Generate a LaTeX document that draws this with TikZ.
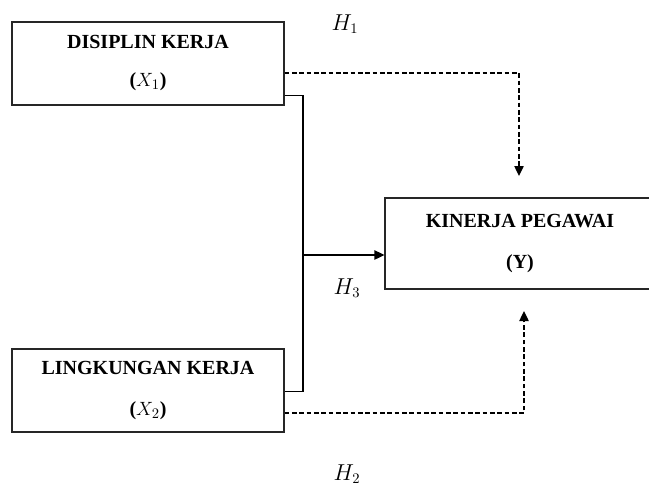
\documentclass[tikz,border=0pt]{standalone}
\usepackage{fontspec}
\setmainfont{Liberation Serif}
\usetikzlibrary{arrows.meta,calc}
\begin{document}
\begin{tikzpicture}[x=0.75pt,y=-0.75pt,
  box/.style={draw=black!85,line width=0.8pt,rectangle,align=center,inner sep=0pt,
    font=\fontsize{15}{28.5}\selectfont\bfseries},
  conn/.style={line width=1pt,black},
  dconn/.style={line width=1pt,black,dash pattern=on 3.5pt off 2pt},
  tip/.style={-{Triangle[length=7.5pt,width=7pt]}},
  hlab/.style={font=\fontsize{16}{18}\selectfont,inner sep=0pt}]
\clip (0,0) rectangle (649,486);
\useasboundingbox (0,0) rectangle (649,486);
\node[box,minimum width=204pt,minimum height=62.25pt] (b1) at (148,63.5)
  {DISIPLIN KERJA\\($X_1$)};
\node[box,minimum width=204pt,minimum height=62.25pt,
  font=\fontsize{15}{30.5}\selectfont\bfseries] (b2) at (148,390.5)
  {LINGKUNGAN KERJA\\($X_2$)};
\node[box,minimum width=202.5pt,minimum height=68.25pt,
  font=\fontsize{15}{30.75}\selectfont\bfseries] (by) at (520,243.5)
  {KINERJA PEGAWAI\\(Y)};
\coordinate (j) at (303,255);
\coordinate (t1) at (519,176);
\coordinate (t2) at (524,311);
% solid bracket
\draw[conn] ([yshift=7.5pt]b1.south east) -| (j) |- ([yshift=30.75pt]b2.south east);
\draw[conn,tip] (j) -- (j -| by.west);
% dashed H1
\draw[dconn,tip] ([yshift=-7.125pt]b1.east) -| (t1);
% dashed H2
\draw[dconn,tip] ([yshift=-16.875pt]b2.east) -| (t2);
\node[hlab] (h1) at (345,24) {$H_1$};
\node[hlab] (h3) at (347,288) {$H_3$};
\node[hlab] (h2) at (347,474) {$H_2$};
\end{tikzpicture}
\end{document}
